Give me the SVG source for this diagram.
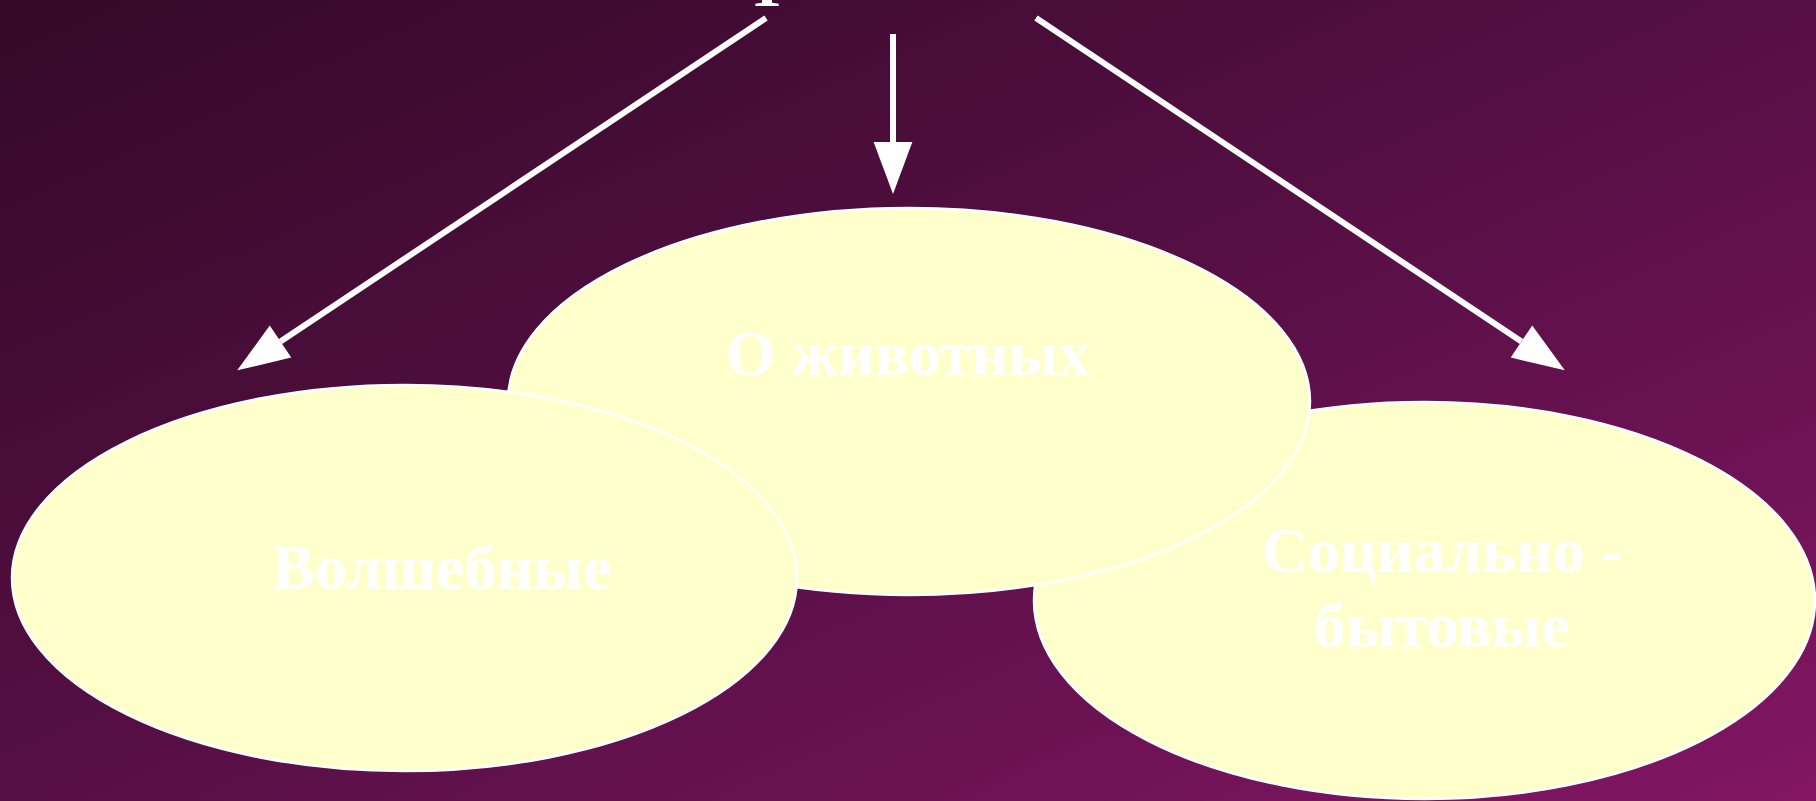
<svg xmlns="http://www.w3.org/2000/svg" width="1816" height="801" viewBox="0 0 1816 801">
  <defs>
    <linearGradient id="bg" x1="0" y1="0" x2="1" y2="1">
      <stop offset="0" stop-color="#340927"/>
      <stop offset="0.5" stop-color="#560f44"/>
      <stop offset="1" stop-color="#821663"/>
    </linearGradient>
    <marker id="head" markerUnits="userSpaceOnUse" markerWidth="52" markerHeight="40" viewBox="0 0 51 38" refX="0" refY="19" orient="auto" overflow="visible">
      <path d="M0,0 L51,19 L0,38 Z" fill="#ffffff"/>
    </marker>
    <style>
      .node { fill: #ffffcc; stroke: #ffffff; stroke-width: 2.5; }
      .label { font-family: "Liberation Serif", "Times New Roman", serif; font-weight: bold; font-size: 64px; fill: #ffffff; text-anchor: middle; }
      .conn { stroke: #ffffff; stroke-width: 6; fill: none; marker-end: url(#head); }
    </style>
  </defs>
  <rect x="0" y="0" width="1816" height="801" fill="url(#bg)"/>
  <text class="label" x="767" y="6" font-size="48">Т</text>
  <g id="connectors">
    <line class="conn" x1="766" y1="18" x2="280.5" y2="341.5"/>
    <line class="conn" x1="893" y1="34" x2="893" y2="142"/>
    <line class="conn" x1="1036" y1="18" x2="1521.5" y2="341.5"/>
  </g>
  <g id="node-social">
    <ellipse class="node" cx="1424.5" cy="600.5" rx="390.5" ry="198.5"/>
    <text class="label" x="1442" y="572">Социально -</text>
    <text class="label" x="1442" y="647">бытовые</text>
  </g>
  <g id="node-animals">
    <ellipse class="node" cx="909" cy="401.5" rx="401" ry="193.5"/>
    <text class="label" x="908" y="375">О животных</text>
  </g>
  <g id="node-magic">
    <ellipse class="node" cx="404.5" cy="578" rx="392.5" ry="193"/>
    <text class="label" x="442" y="589">Волшебные</text>
  </g>
</svg>
